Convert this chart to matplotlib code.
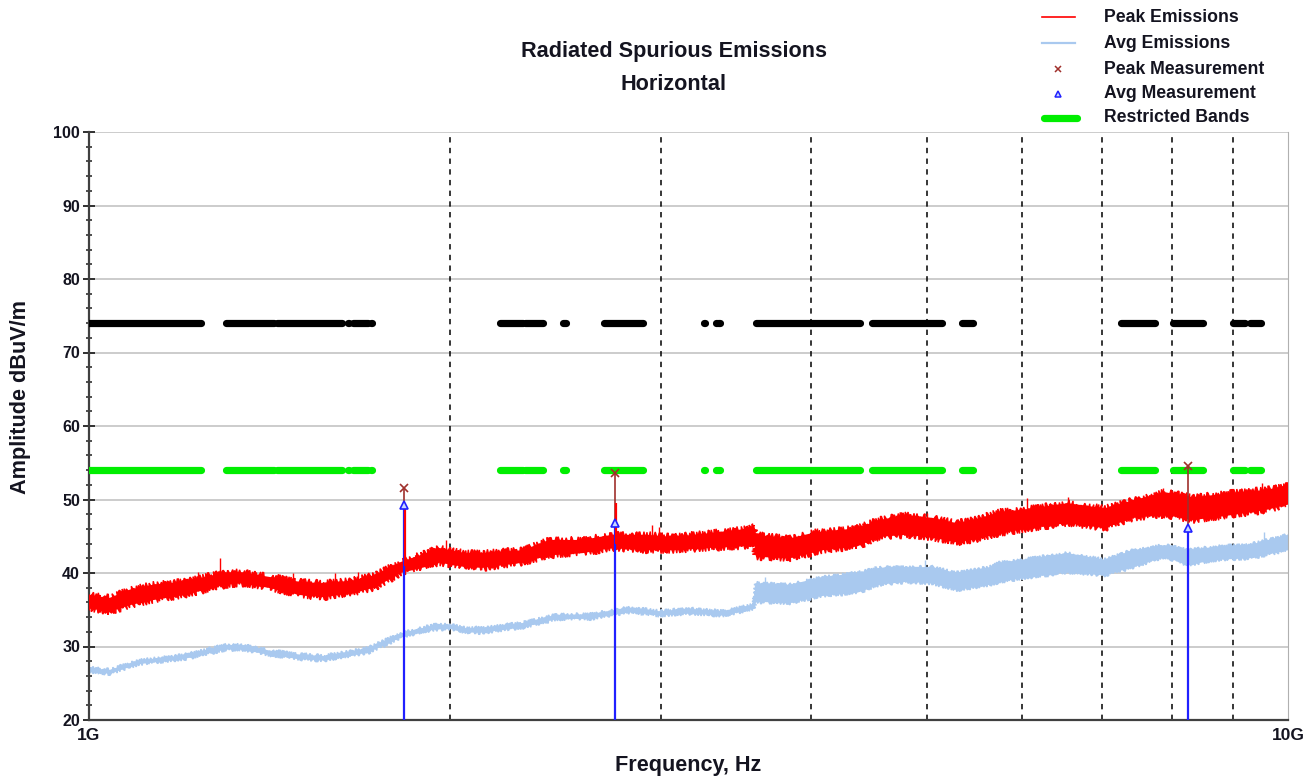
import matplotlib
matplotlib.use("Agg")
import matplotlib.pyplot as plt
from matplotlib.lines import Line2D
from matplotlib.patches import Polygon
from matplotlib.ticker import FixedLocator, MultipleLocator, NullLocator

plt.rcParams['font.family'] = ['Liberation Sans', 'DejaVu Sans']
plt.rcParams['font.weight'] = 'bold'

# ---- data (frequencies in GHz, amplitudes in dBuV/m) ----
peak_freq = [1.00, 1.04, 1.08, 1.13, 1.20, 1.30, 1.34, 1.41, 1.50, 1.57, 1.66, 1.73,
             1.82, 1.94, 1.96, 2.06, 2.13, 2.30, 2.42, 2.58, 2.73, 2.92, 3.07, 3.28,
             3.49, 3.59, 3.60, 3.84, 4.05, 4.09, 4.37, 4.56, 4.80, 5.05, 5.29, 5.46,
             5.75, 6.00, 6.55, 7.03, 7.43, 7.89, 8.34, 9.00, 9.60, 10.0]
peak_lo = [35.2, 34.7, 35.6, 36.3, 37.0, 38.4, 38.6, 38.0, 37.0, 36.7, 37.3, 38.0,
           40.0, 41.1, 41.4, 40.8, 40.7, 41.4, 42.4, 42.7, 43.4, 43.1, 43.1, 43.4,
           43.6, 43.8, 42.2, 42.0, 42.9, 43.1, 43.6, 44.9, 45.2, 44.8, 44.2, 44.5,
           45.4, 45.9, 46.8, 46.1, 47.5, 47.9, 47.2, 47.9, 48.6, 49.3]
peak_hi = [37.0, 36.6, 37.7, 38.4, 38.8, 40.1, 40.1, 39.5, 38.8, 38.6, 39.0, 39.7,
           41.5, 43.1, 43.4, 42.7, 42.7, 43.1, 44.5, 44.5, 45.2, 45.2, 44.9, 45.4,
           45.9, 46.3, 45.2, 44.7, 45.6, 45.6, 46.1, 47.2, 47.9, 47.5, 46.8, 47.2,
           48.3, 48.6, 49.5, 48.8, 49.9, 51.0, 50.3, 50.9, 51.3, 52.0]

avg_freq = [1.00, 1.04, 1.10, 1.17, 1.20, 1.30, 1.34, 1.42, 1.50, 1.57, 1.66, 1.71,
            1.82, 1.94, 2.00, 2.06, 2.13, 2.30, 2.45, 2.62, 2.73, 2.84, 2.99, 3.17,
            3.38, 3.58, 3.60, 3.84, 4.08, 4.37, 4.56, 4.80, 5.05, 5.29, 5.64, 5.75,
            6.00, 6.55, 7.03, 7.43, 7.89, 8.25, 8.73, 9.28, 10.0]
avg_lo = [26.6, 26.3, 27.6, 28.1, 28.3, 29.6, 29.6, 28.8, 28.3, 28.1, 28.8, 29.2,
          31.2, 32.3, 32.4, 31.9, 31.9, 32.6, 33.7, 33.8, 34.3, 34.7, 34.2, 34.5,
          34.2, 35.1, 36.1, 35.9, 36.9, 37.3, 38.4, 38.8, 38.6, 37.7, 38.4, 38.8,
          39.3, 40.1, 39.7, 40.8, 42.2, 41.1, 41.8, 42.0, 43.1]
avg_hi = [27.1, 26.8, 28.1, 28.6, 28.8, 30.2, 30.2, 29.4, 28.9, 28.7, 29.4, 29.8,
          31.8, 32.9, 33.0, 32.5, 32.5, 33.2, 34.3, 34.4, 34.9, 35.3, 34.8, 35.1,
          34.8, 35.7, 38.6, 38.4, 39.4, 40.0, 40.7, 40.8, 40.8, 40.0, 40.8, 41.4,
          41.8, 42.7, 41.8, 43.1, 43.8, 43.1, 43.6, 43.8, 45.2]

# isolated spikes standing above the traces
peak_spike_freq = [1.233, 1.286, 1.48, 1.604, 1.677, 1.985, 2.95, 2.99,
                   3.41, 3.57, 4.05, 5.00, 6.06, 6.55, 7.86, 9.52]
peak_spike_val = [40.1, 42.0, 40.0, 40.0, 40.1, 44.5, 46.5, 46.3,
                  46.1, 46.8, 46.1, 48.1, 50.2, 50.3, 51.5, 52.2]
avg_spike_freq = [3.66, 4.98, 9.55]
avg_spike_val = [39.5, 41.8, 45.6]

# peak trace at the measured frequencies (drawn just beside the markers)
meas_trace_freq = [1.835, 2.752]
meas_trace_top = [49.0, 49.5]
meas_trace_base = [41.0, 44.0]

# final measurements
meas_freq = [1.83, 2.745, 8.25]
meas_peak = [51.6, 53.6, 54.5]
meas_avg = [49.3, 46.8, 46.1]

# restricted bands (GHz)
bands = [(1.0, 1.24), (1.30, 1.427), (1.435, 1.6265), (1.6455, 1.6465), (1.66, 1.71),
         (1.7188, 1.7222), (2.20, 2.30), (2.31, 2.39), (2.4835, 2.50), (2.69, 2.90),
         (3.26, 3.267), (3.332, 3.339), (3.3458, 3.358), (3.60, 4.40), (4.50, 5.15),
         (5.35, 5.46), (7.25, 7.75), (8.025, 8.50), (9.00, 9.20), (9.30, 9.50)]
peak_limit = 74
avg_limit = 54

# ---- figure ----
W, H = 1307, 779
fig = plt.figure(figsize=(W / 100, H / 100), dpi=100)
L, R, T, B = 89, 1288, 132, 720
ax = fig.add_axes([L / W, 1 - B / H, (R - L) / W, (B - T) / H])

def fx(px):
    return px / W

def fy(py):
    return 1 - py / H

RED = '#ff0000'
LBLUE = '#a9c9ef'
GREEN = '#00ee00'
BROWN = '#a0302c'
TXT = '#141420'

ax.set_xscale('log')
ax.set_xlim(1, 10)
ax.set_ylim(20, 100)

# grid
for y in range(30, 101, 10):
    ax.axhline(y, color='#c8c8c8', lw=1.3, zorder=0)
ax.vlines([2, 3, 4, 5, 6, 7, 8, 9], 20, 100, colors='black', lw=1.1,
          linestyles=(0, (3.5, 3.5)), zorder=0.5)


def trace_band(freq, lo, hi, color, jag, z):
    """Filled band between two envelopes, drawn with a jagged outline."""
    verts = list(zip(freq, hi)) + list(zip(freq[::-1], lo[::-1]))
    band = Polygon(verts, closed=True, facecolor=color, edgecolor=color,
                   lw=1.0, zorder=z)
    band.set_sketch_params(scale=jag, length=1.2, randomness=4)
    ax.add_patch(band)
    inner = Polygon(verts, closed=True, facecolor=color, edgecolor='none',
                    zorder=z)
    ax.add_patch(inner)


# emission traces
trace_band(avg_freq, avg_lo, avg_hi, LBLUE, 1.8, 2)
ax.vlines(avg_spike_freq, [v - 2 for v in avg_spike_val], avg_spike_val,
          colors=LBLUE, lw=1.0, zorder=2)
trace_band(peak_freq, peak_lo, peak_hi, RED, 3.5, 3)
ax.vlines(peak_spike_freq, [v - 2.5 for v in peak_spike_val], peak_spike_val,
          colors=RED, lw=1.0, zorder=3)
ax.vlines(meas_trace_freq, meas_trace_base, meas_trace_top, colors=RED,
          lw=1.6, zorder=6.5)

# restricted band limit lines
for f0, f1 in bands:
    ax.plot([f0, f1], [peak_limit, peak_limit], color='black', lw=5.2,
            solid_capstyle='round', zorder=4)
    ax.plot([f0, f1], [avg_limit, avg_limit], color=GREEN, lw=5.2,
            solid_capstyle='round', zorder=4)

# measurement markers
for f, pk, av in zip(meas_freq, meas_peak, meas_avg):
    ax.plot([f, f], [20, pk], color=BROWN, lw=1.2, zorder=5)
    ax.plot([f, f], [20, av], color='#2020ff', lw=1.6, zorder=6)
ax.plot(meas_freq, meas_peak, ls='none', marker='x', ms=6, mew=1.2,
        color=BROWN, zorder=7)
ax.plot(meas_freq, meas_avg, ls='none', marker='^', ms=6, mew=1.2,
        mfc='#c8d8ff', mec='#2020ff', zorder=7)

# axes styling
ax.spines['top'].set_visible(False)
ax.spines['right'].set_color('#b0b0b0')
ax.spines['left'].set_color('#404040')
ax.spines['bottom'].set_color('#404040')
ax.spines['left'].set_linewidth(1.6)
ax.spines['bottom'].set_linewidth(1.6)

ax.yaxis.set_major_locator(MultipleLocator(10))
ax.yaxis.set_minor_locator(MultipleLocator(2))
ax.tick_params(axis='y', which='major', direction='inout', length=9, width=1.4,
               color='#303030', labelsize=11.5, labelcolor=TXT, pad=2)
ax.tick_params(axis='y', which='minor', direction='inout', length=5, width=1.2,
               color='#303030')
ax.xaxis.set_major_locator(FixedLocator([1, 10]))
ax.xaxis.set_minor_locator(NullLocator())
ax.set_xticklabels(['1G', '10G'])
ax.tick_params(axis='x', which='major', length=0, labelsize=12.5,
               labelcolor=TXT, pad=6)
for lab in ax.get_xticklabels() + ax.get_yticklabels():
    lab.set_fontweight('bold')

# titles and labels
fig.text(fx(674), fy(52), 'Radiated Spurious Emissions', ha='center', va='center',
         fontsize=15.6, fontweight='bold', color=TXT)
fig.text(fx(674), fy(85), 'Horizontal', ha='center', va='center',
         fontsize=15.6, fontweight='bold', color=TXT)
fig.text(fx(688), fy(766), 'Frequency, Hz', ha='center', va='center',
         fontsize=15.6, fontweight='bold', color=TXT)
fig.text(fx(21), fy(397), 'Amplitude dBuV/m', ha='center', va='center',
         rotation=90, fontsize=15.6, fontweight='bold', color=TXT)

# legend
leg_rows = [17, 43, 69, 94, 118]
leg_labels = ['Peak Emissions', 'Avg Emissions', 'Peak Measurement',
              'Avg Measurement', 'Restricted Bands']
x0, x1, xm = 1042, 1075, 1058
fig.add_artist(Line2D([fx(x0), fx(x1)], [fy(leg_rows[0])] * 2, color=RED, lw=1.2))
fig.add_artist(Line2D([fx(x0), fx(x1)], [fy(leg_rows[1])] * 2, color=LBLUE, lw=1.6))
fig.add_artist(Line2D([fx(xm)], [fy(leg_rows[2])], ls='none', marker='x', ms=5,
                      mew=1.1, color=BROWN))
fig.add_artist(Line2D([fx(xm)], [fy(leg_rows[3])], ls='none', marker='^', ms=5,
                      mew=1.1, mfc='#c8d8ff', mec='#2020ff'))
fig.add_artist(Line2D([fx(x0 + 2), fx(x1 + 2)], [fy(leg_rows[4])] * 2, color=GREEN,
                      lw=5.2, solid_capstyle='round'))
for y, t in zip(leg_rows, leg_labels):
    fig.text(fx(1104), fy(y), t, ha='left', va='center', fontsize=12.7,
             fontweight='bold', color=TXT)

fig.savefig('out.png', dpi=100)
